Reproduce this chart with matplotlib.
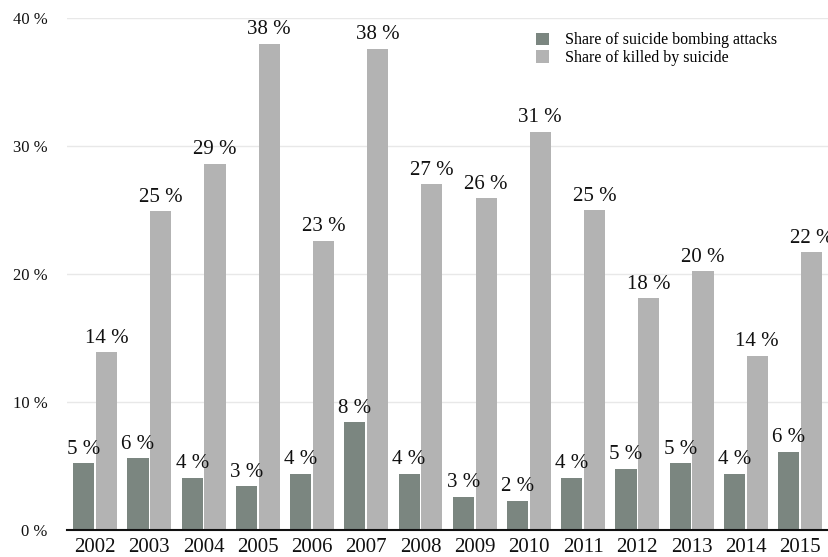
import numpy as np
import matplotlib
matplotlib.use('Agg')
from matplotlib import pyplot as plt

plt.rcParams['font.family'] = ['Liberation Serif', 'DejaVu Serif']

years = ['2002', '2003', '2004', '2005', '2006', '2007', '2008',
         '2009', '2010', '2011', '2012', '2013', '2014', '2015']
share_attacks = [5.2, 5.6, 4.1, 3.4, 4.4, 8.4, 4.4,
                 2.6, 2.3, 4.1, 4.8, 5.2, 4.4, 6.1]
share_killed = [13.9, 24.9, 28.6, 38.0, 22.6, 37.6, 27.0,
                25.9, 31.1, 25.0, 18.1, 20.2, 13.6, 21.7]

c_dark = '#7b8680'
c_light = '#b3b3b3'

fig = plt.figure(figsize=(8.29, 5.57), dpi=100)
ax = fig.add_axes([67/829, 27/557, 762/829, 512/557])

x = np.arange(len(years))
w = 0.39
b1 = ax.bar(x - w/2 - 0.015, share_attacks, w, color=c_dark,
            label='Share of suicide bombing attacks', zorder=2)
b2 = ax.bar(x + w/2 + 0.015, share_killed, w, color=c_light,
            label='Share of killed by suicide', zorder=2)

# percentage labels over each bar
for bars, vals in ((b1, share_attacks), (b2, share_killed)):
    for r, v in zip(bars, vals):
        ax.text(r.get_x() + r.get_width()/2, v + 0.35, f'{round(v)} %',
                ha='center', va='bottom', fontsize=15, color='#111111')

ax.set_xlim(-0.52, len(years) - 1 + 0.535)
ax.set_ylim(0, 40)
ax.set_yticks([0, 10, 20, 30, 40])
ax.set_yticklabels([f'{t} %' for t in [0, 10, 20, 30, 40]], fontsize=12)
ax.set_xticks(x)
ax.set_xticklabels(years, fontsize=15)
ax.tick_params(axis='both', length=0, colors='#111111')
ax.tick_params(axis='y', pad=14)
ax.tick_params(axis='x', pad=6)

ax.grid(axis='y', color='#e8e8e8', linewidth=1, zorder=0)
for s in ['top', 'right', 'left']:
    ax.spines[s].set_visible(False)
ax.spines['bottom'].set_color('#111111')
ax.spines['bottom'].set_linewidth(1.5)
ax.spines['bottom'].set_zorder(3)

ax.legend(loc='upper left', bbox_to_anchor=(0.597, 1.0), frameon=False,
          fontsize=11.5, handlelength=0.8, handleheight=0.8,
          handletextpad=1.0, labelspacing=0.1)

fig.savefig('out.png', dpi=100)
